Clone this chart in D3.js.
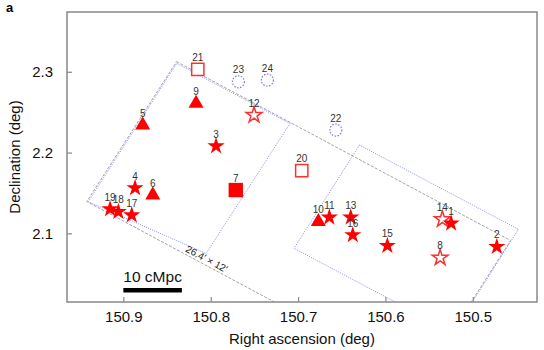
<!DOCTYPE html>
<html>
<head>
<meta charset="utf-8">
<script src="https://cdn.jsdelivr.net/npm/d3@7"></script>
<style>
  body { margin: 0; background: #fff; }
  svg text { font-family: "Liberation Sans", Arial, Helvetica, sans-serif; }
</style>
</head>
<body>
<div id="chart"></div>
<script>
// source ids, positions (deg) and marker kind
const ids  = [1, 2, 3, 4, 5, 6, 7, 8, 9, 10, 11, 12, 13, 14, 15, 16, 17, 18, 19, 20, 21, 22, 23, 24];
const raValues = [150.5248, 150.4725, 150.7939, 150.8866, 150.8778, 150.8663, 150.7713, 150.5374,
                  150.8168, 150.6768, 150.6642, 150.7504, 150.6397, 150.5348, 150.5978, 150.6374,
                  150.8904, 150.9057, 150.9152, 150.6958, 150.8148, 150.6568, 150.7683, 150.7351];
const decValues = [2.1124, 2.0834, 2.2080, 2.1561, 2.2340, 2.1474, 2.1536, 2.0698,
                   2.2609, 2.1144, 2.1198, 2.2464, 2.1198, 2.1173, 2.0847, 2.0979,
                   2.1226, 2.1267, 2.1301, 2.1775, 2.3030, 2.2278, 2.2876, 2.2897];
const kinds = ["star", "star", "star", "star", "tri", "tri", "square", "openStar",
               "tri", "tri", "star", "openStar", "star", "openStar", "star", "star",
               "star", "star", "star", "openSquare", "openSquare", "circle", "circle", "circle"];

// survey footprints (corners in ra, dec)
const fieldLeftRa  = [150.8389, 150.7092, 150.8053, 150.9401];
const fieldLeftDec = [2.3104, 2.2359, 2.0750, 2.1391];
const fieldRightRa  = [150.6298, 150.4478, 150.5226, 150.7046];
const fieldRightDec = [2.2093, 2.1050, 1.9771, 2.0814];
const wideRa  = [150.8391, 150.4567, 150.5594, 150.9418];
const wideDec = [2.3126, 2.0911, 1.9178, 2.1394];
const wideLabel = "26.4′ × 12′";

const raTicks = [150.9, 150.8, 150.7, 150.6, 150.5];
const decTicks = [2.1, 2.2, 2.3];
const scaleBarRa = [150.9, 150.833];
const scaleBarLabel = "10 cMpc";

const W = 544, H = 350;
const margin = { top: 12, right: 7, bottom: 48, left: 67 };
const width = W - margin.left - margin.right;
const height = H - margin.top - margin.bottom;

const x = d3.scaleLinear().domain([150.9645, 150.4265]).range([0, width]);
const y = d3.scaleLinear().domain([2.015, 2.374]).range([height, 0]);

const svg = d3.select("#chart").append("svg")
    .attr("width", W).attr("height", H);

svg.append("text")
    .attr("x", 6).attr("y", 11.5)
    .attr("font-size", 13).attr("font-weight", "bold")
    .text("a");

const g = svg.append("g").attr("transform", `translate(${margin.left},${margin.top})`);

g.append("clipPath").attr("id", "plotclip")
  .append("rect").attr("width", width).attr("height", height);

const fields = g.append("g").attr("clip-path", "url(#plotclip)");
const toPts = (ras, decs) => ras.map((r, i) => [x(r), y(decs[i])]);
const line = d3.line().curve(d3.curveLinearClosed);

const widePts = toPts(wideRa, wideDec);
fields.append("path")
    .attr("d", line(widePts))
    .attr("fill", "none").attr("stroke", "#999")
    .attr("stroke-width", 0.9).attr("stroke-dasharray", "3,1.5");

[[fieldLeftRa, fieldLeftDec], [fieldRightRa, fieldRightDec]].forEach(([r, d]) => {
  fields.append("path")
      .attr("d", line(toPts(r, d)))
      .attr("fill", "none").attr("stroke", "#8080ff")
      .attr("stroke-width", 0.9).attr("stroke-dasharray", "1,1.2");
});

// footprint size label along the lower edge
{
  const p0 = widePts[3], p1 = widePts[2];
  const t = 0.35;
  const px = p0[0] + t * (p1[0] - p0[0]), py = p0[1] + t * (p1[1] - p0[1]);
  const ang = Math.atan2(p1[1] - p0[1], p1[0] - p0[0]) * 180 / Math.PI;
  g.append("text")
      .attr("transform", `translate(${px},${py}) rotate(${ang}) translate(0,-2.5)`)
      .attr("text-anchor", "middle")
      .attr("font-size", 10).attr("fill", "#222")
      .text(wideLabel);
}

// axes
const xAxis = d3.axisBottom(x).tickValues(raTicks).tickSize(-5).tickPadding(9)
    .tickFormat(d3.format(".1f"));
const yAxis = d3.axisLeft(y).tickValues(decTicks).tickSize(-5).tickPadding(14)
    .tickFormat(d3.format(".1f"));

const gx = g.append("g").attr("transform", `translate(0,${height})`).call(xAxis);
const gy = g.append("g").call(yAxis);
[gx, gy].forEach(a => {
  a.select(".domain").remove();
  a.selectAll("line").attr("stroke", "#888").attr("stroke-width", 1.2);
  a.selectAll("text").attr("font-size", 15).attr("fill", "#111")
      .attr("font-family", "'Liberation Sans', Arial, sans-serif");
});

g.append("rect")
    .attr("width", width).attr("height", height)
    .attr("fill", "none").attr("stroke", "#888").attr("stroke-width", 1.5);

svg.append("text")
    .attr("x", margin.left + width / 2).attr("y", 344)
    .attr("text-anchor", "middle").attr("font-size", 15).attr("fill", "#111")
    .text("Right ascension (deg)");

svg.append("text")
    .attr("transform", `translate(20,${margin.top + height / 2}) rotate(-90)`)
    .attr("text-anchor", "middle").attr("font-size", 15).attr("fill", "#111")
    .text("Declination (deg)");

// scale bar
g.append("rect")
    .attr("x", x(scaleBarRa[0])).attr("y", 276)
    .attr("width", x(scaleBarRa[1]) - x(scaleBarRa[0])).attr("height", 4.5)
    .attr("fill", "#000");
g.append("text")
    .attr("x", (x(scaleBarRa[0]) + x(scaleBarRa[1])) / 2).attr("y", 269.5)
    .attr("text-anchor", "middle").attr("font-size", 15.5).attr("fill", "#111")
    .text(scaleBarLabel);

// sources
const data = ids.map((id, i) => ({ id, ra: raValues[i], dec: decValues[i], kind: kinds[i] }));
const order = { circle: 0, openSquare: 1, openStar: 2, square: 3, tri: 4, star: 5 };
const sorted = data.slice().sort((a, b) => order[a.kind] - order[b.kind]);

const symbols = {
  star: d3.symbol(d3.symbolStar).size(92),
  openStar: d3.symbol(d3.symbolStar).size(78),
  tri: d3.symbol(d3.symbolTriangle).size(98),
  square: d3.symbol(d3.symbolSquare).size(206),
  openSquare: d3.symbol(d3.symbolSquare).size(150),
  circle: d3.symbol(d3.symbolCircle).size(113)
};

const marks = g.append("g");
marks.selectAll("path")
  .data(sorted)
  .enter()
  .append("path")
    .attr("transform", d => `translate(${x(d.ra)},${y(d.dec)})`)
    .attr("d", d => symbols[d.kind]())
    .attr("fill", d => (d.kind === "star" || d.kind === "tri" || d.kind === "square") ? "#ff0000" : (d.kind === "circle" ? "none" : "#fff"))
    .attr("stroke", d => d.kind === "circle" ? "#7a7aff" : (d.kind.startsWith("open") ? "#ff3030" : "none"))
    .attr("stroke-width", d => d.kind === "circle" ? 1.2 : 1.5)
    .attr("stroke-dasharray", d => d.kind === "circle" ? "1.5,1.5" : null);

g.append("g").selectAll("text")
  .data(data)
  .enter()
  .append("text")
    .attr("x", d => x(d.ra))
    .attr("y", d => y(d.dec) - 8.5)
    .attr("text-anchor", "middle")
    .attr("font-size", 10).attr("fill", "#333")
    .text(d => d.id);
</script>
</body>
</html>
